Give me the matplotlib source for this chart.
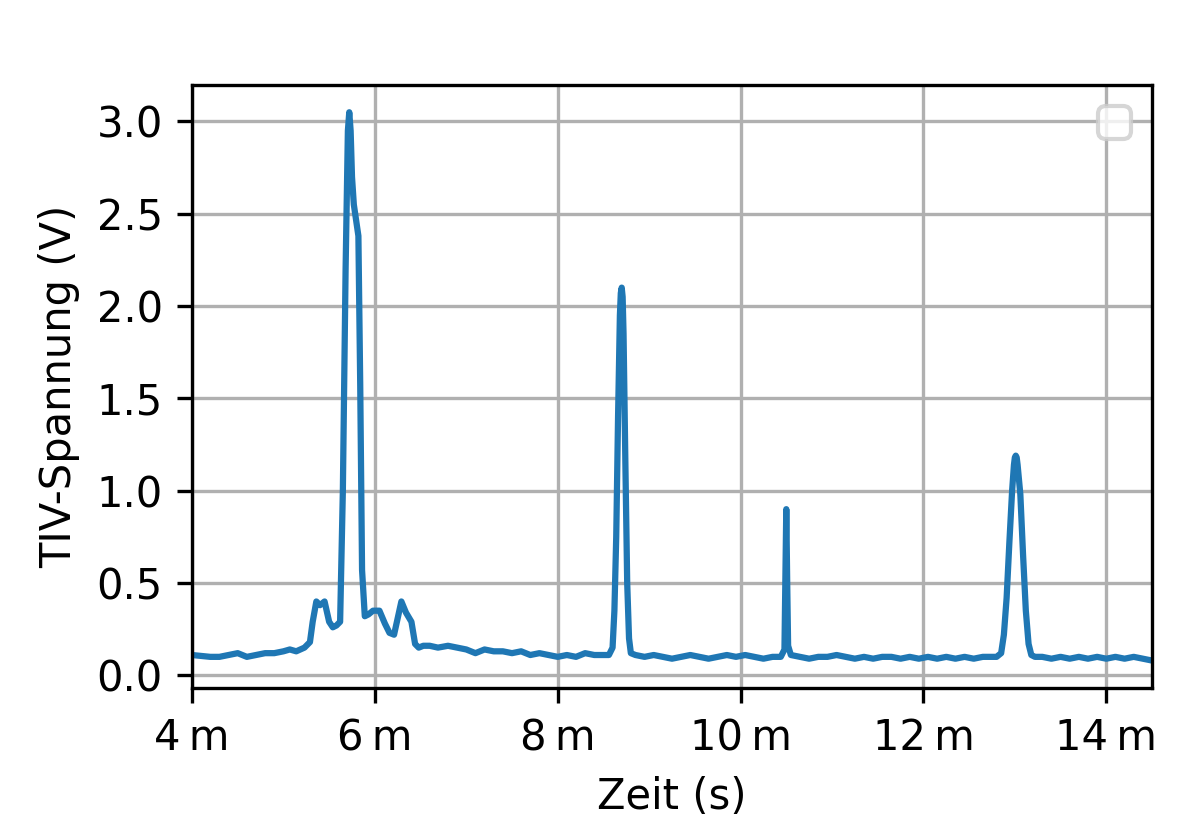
import matplotlib
matplotlib.use("Agg")
import matplotlib.pyplot as plt
from matplotlib.ticker import EngFormatter
import numpy as np

# Zeitpunkte in ms, Spannung in V
zeit_ms = [
    4.00, 4.10, 4.20, 4.30, 4.40, 4.50, 4.60, 4.70, 4.80, 4.90, 5.00, 5.07,
    5.14, 5.23, 5.29, 5.32, 5.36, 5.40, 5.45, 5.50, 5.54, 5.58, 5.62,
    5.65, 5.68, 5.705, 5.72, 5.735, 5.75, 5.77, 5.82, 5.84, 5.86, 5.89, 5.93, 5.98,
    6.05, 6.11, 6.16, 6.21, 6.25, 6.29, 6.34, 6.40, 6.44, 6.48, 6.53,
    6.60, 6.69, 6.80, 6.90, 7.00, 7.10, 7.20, 7.30, 7.40, 7.50, 7.60,
    7.70, 7.80, 7.90, 8.00, 8.10, 8.20, 8.30, 8.40, 8.50, 8.56, 8.60,
    8.62, 8.64, 8.66, 8.68, 8.69, 8.70, 8.71, 8.72, 8.74, 8.76, 8.78, 8.80, 8.85,
    8.95, 9.05, 9.15, 9.25, 9.35, 9.45, 9.55, 9.65, 9.75, 9.85, 9.95,
    10.05, 10.15, 10.25, 10.35, 10.44, 10.48, 10.49, 10.50, 10.51, 10.52,
    10.55, 10.65, 10.75, 10.85, 10.95, 11.05, 11.15, 11.25, 11.35, 11.45,
    11.55, 11.65, 11.75, 11.85, 11.95, 12.05, 12.15, 12.25, 12.35, 12.45,
    12.55, 12.65, 12.75, 12.80, 12.85, 12.88, 12.91, 12.94, 12.97, 12.99,
    13.00, 13.01, 13.02, 13.03, 13.06, 13.09, 13.12, 13.15, 13.18, 13.22, 13.30, 13.40,
    13.50, 13.60, 13.70, 13.80, 13.90, 14.00, 14.10, 14.20, 14.30, 14.40,
    14.50,
]
spannung = [
    0.11, 0.105, 0.10, 0.10, 0.11, 0.12, 0.10, 0.11, 0.12, 0.12, 0.13, 0.14,
    0.13, 0.15, 0.18, 0.29, 0.40, 0.38, 0.40, 0.29, 0.26, 0.27, 0.29,
    1.00, 2.20, 2.95, 3.05, 2.95, 2.70, 2.55, 2.38, 1.57, 0.57, 0.32, 0.33, 0.35,
    0.35, 0.28, 0.23, 0.22, 0.31, 0.40, 0.34, 0.29, 0.17, 0.15, 0.16,
    0.16, 0.15, 0.16, 0.15, 0.14, 0.12, 0.14, 0.13, 0.13, 0.12, 0.13,
    0.11, 0.12, 0.11, 0.10, 0.11, 0.10, 0.12, 0.11, 0.11, 0.11, 0.15,
    0.35, 0.75, 1.40, 1.95, 2.07, 2.10, 2.05, 1.85, 1.15, 0.50, 0.20, 0.12, 0.11,
    0.10, 0.11, 0.10, 0.09, 0.10, 0.11, 0.10, 0.09, 0.10, 0.11, 0.10,
    0.11, 0.10, 0.09, 0.10, 0.10, 0.14, 0.50, 0.90, 0.50, 0.16,
    0.11, 0.10, 0.09, 0.10, 0.10, 0.11, 0.10, 0.09, 0.10, 0.09,
    0.10, 0.10, 0.09, 0.10, 0.09, 0.10, 0.09, 0.10, 0.09, 0.10,
    0.09, 0.10, 0.10, 0.10, 0.12, 0.22, 0.42, 0.72, 1.00, 1.14,
    1.18, 1.19, 1.18, 1.14, 0.98, 0.65, 0.35, 0.17, 0.11, 0.10, 0.10, 0.09,
    0.10, 0.09, 0.10, 0.09, 0.10, 0.09, 0.10, 0.09, 0.10, 0.09,
    0.08,
]

t = np.array(zeit_ms) * 1e-3

fig, ax = plt.subplots(figsize=(4, 2.8), dpi=300)
ax.plot(t, spannung, color="#1f77b4", lw=1.5)
ax.set_xlim(4e-3, 14.5e-3)
ax.xaxis.set_major_formatter(EngFormatter(sep="\u2009"))
ax.set_xlabel("Zeit (s)")
ax.set_ylabel("TIV-Spannung (V)")
ax.grid(True)
ax.legend(handles=[], loc="upper right")
fig.subplots_adjust(left=0.16, right=0.96, top=0.899, bottom=0.181)
fig.savefig("out.png", dpi=300)
